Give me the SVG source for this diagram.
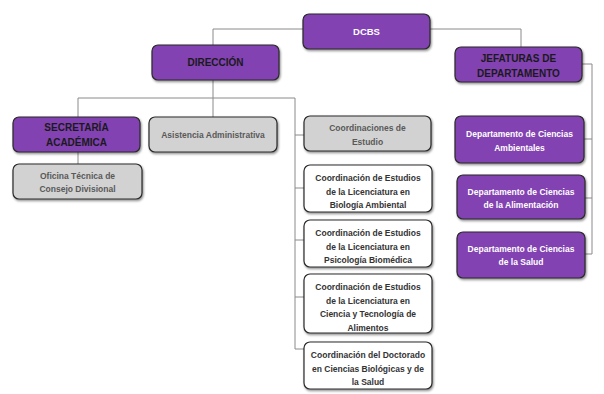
<svg xmlns="http://www.w3.org/2000/svg" width="604" height="394" viewBox="0 0 604 394">
<defs>
<filter id="sh" x="-10%" y="-10%" width="125%" height="140%">
<feDropShadow dx="1" dy="1.5" stdDeviation="1" flood-color="#000" flood-opacity="0.45"/>
</filter>
</defs>
<style>
.box{stroke:#2a2a2a;stroke-width:1.2;filter:url(#sh)}
.p{fill:#8242b2}
.g{fill:#d2d2d2}
.w{fill:#ffffff}
text{font-family:"Liberation Sans",Arial,sans-serif;font-weight:bold;text-anchor:middle}
.tp{fill:#ffffff;font-size:8.5px}
.tg{fill:#595959;font-size:8.5px}
.tw{fill:#333333;font-size:8.5px}
.big{fill:#1a1a1a;font-size:10px}
.top{fill:#ffffff;font-size:9.5px}
.conn{fill:none;stroke:#8a8a8a;stroke-width:1}
</style>
<rect width="604" height="394" fill="#ffffff"/>
<g id="connectors" class="conn">
<path d="M303,29H213V45"/>
<path d="M430,29H521V47"/>
<path d="M213,80V98"/>
<path d="M78,117V98H295V349H304"/>
<path d="M213,98V117"/>
<path d="M78,152V164"/>
<path d="M295,135H304"/>
<path d="M295,188H304"/>
<path d="M295,240H304"/>
<path d="M295,297H304"/>
<path d="M582,64H592V254H585"/>
<path d="M592,139H584"/>
<path d="M592,198H585"/>
</g>
<g id="dcbs"><rect class="box p" x="303" y="14" width="127" height="35" rx="6"/><text class="top" x="366.5" y="35">DCBS</text></g>
<g id="direccion"><rect class="box p" x="152" y="45" width="127" height="35" rx="6"/><text class="big" x="215.5" y="66">DIRECCIÓN</text></g>
<g id="jefaturas"><rect class="box p" x="455" y="47" width="127" height="35" rx="6"/><text class="big" x="518.5" y="62">JEFATURAS DE</text><text class="big" x="518.5" y="77">DEPARTAMENTO</text></g>
<g id="secretaria"><rect class="box p" x="13" y="117" width="127" height="35" rx="6"/><text class="big" x="76.5" y="131">SECRETARÍA</text><text class="big" x="76.5" y="145.5">ACADÉMICA</text></g>
<g id="asistencia"><rect class="box g" x="149" y="117" width="128" height="35" rx="6"/><text class="tg" x="213" y="137.5">Asistencia Administrativa</text></g>
<g id="oficina"><rect class="box g" x="13" y="164" width="129" height="35" rx="6"/><text class="tg" x="77.5" y="178.5">Oficina Técnica de</text><text class="tg" x="77.5" y="192">Consejo Divisional</text></g>
<g id="coordinaciones"><rect class="box g" x="304" y="116" width="127" height="35" rx="6"/><text class="tg" x="367.5" y="131">Coordinaciones de</text><text class="tg" x="367.5" y="144.5">Estudio</text></g>
<g id="biologia"><rect class="box w" x="304" y="165" width="128" height="47" rx="6"/><text class="tw" x="368" y="181">Coordinación de Estudios</text><text class="tw" x="368" y="194.5">de la Licenciatura en</text><text class="tw" x="368" y="208">Biología Ambiental</text></g>
<g id="psicologia"><rect class="box w" x="304" y="220" width="128" height="47" rx="6"/><text class="tw" x="368" y="236">Coordinación de Estudios</text><text class="tw" x="368" y="249.5">de la Licenciatura en</text><text class="tw" x="368" y="263">Psicología Biomédica</text></g>
<g id="ciencia"><rect class="box w" x="304" y="274" width="128" height="59" rx="6"/><text class="tw" x="368" y="290">Coordinación de Estudios</text><text class="tw" x="368" y="303.5">de la Licenciatura en</text><text class="tw" x="368" y="317">Ciencia y Tecnología de</text><text class="tw" x="368" y="330.5">Alimentos</text></g>
<g id="doctorado"><rect class="box w" x="304" y="342" width="128" height="47" rx="6"/><text class="tw" x="368" y="358">Coordinación del Doctorado</text><text class="tw" x="368" y="371.5">en Ciencias Biológicas y de</text><text class="tw" x="368" y="385">la Salud</text></g>
<g id="ambientales"><rect class="box p" x="455" y="116" width="129" height="47" rx="6"/><text class="tp" x="519.5" y="137">Departamento de Ciencias</text><text class="tp" x="519.5" y="150.5">Ambientales</text></g>
<g id="alimentacion"><rect class="box p" x="457" y="175" width="128" height="44" rx="6"/><text class="tp" x="521" y="194.5">Departamento de Ciencias</text><text class="tp" x="521" y="208">de la Alimentación</text></g>
<g id="salud"><rect class="box p" x="457" y="232" width="128" height="46" rx="6"/><text class="tp" x="521" y="251.5">Departamento de Ciencias</text><text class="tp" x="521" y="265">de la Salud</text></g>
</svg>
